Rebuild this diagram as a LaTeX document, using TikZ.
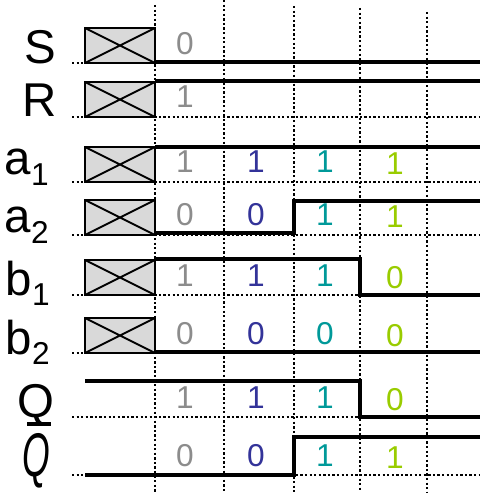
\documentclass[tikz,border=0pt]{standalone}
\usepackage{fontspec}
\setmainfont{Liberation Sans}
\definecolor{bitgray}{RGB}{140,140,140}
\definecolor{bitblue}{RGB}{51,51,153}
\definecolor{bitteal}{RGB}{0,153,153}
\definecolor{bitgreen}{RGB}{153,204,0}
\begin{document}
\begin{tikzpicture}[x=0.02cm, y=-0.02cm,
    gridline/.style={line width=1.3pt, dash pattern=on 1.3pt off 1.3pt},
    signal/.style={line width=2.3pt},
    unknown/.style={draw, line width=1.1pt, fill=black!15},
    sig/.style={font=\fontsize{27}{27}\selectfont, anchor=base east, inner sep=0pt},
    bit/.style={font=\fontsize{18}{20}\selectfont, anchor=base, inner sep=0pt}]
    \useasboundingbox (0,0) rectangle (480,496);

    % Time grid
    \foreach \x/\t in {155/5, 224/0, 294/6, 360/8, 427/12}
        \draw[gridline] (\x,\t) -- (\x,492);
    \foreach \y in {63, 117, 182, 235, 295, 353, 417, 475}
        \draw[gridline] (72,\y) -- (480,\y);

    % Unknown start values
    \foreach \y in {63, 117, 182, 235, 295, 353}
        \draw[unknown] (85,\y-35) rectangle (155,\y)
            (85,\y-35) -- (155,\y) (85,\y) -- (155,\y-35);

    % Signal names
    \node[sig] (S) at (56,64) {S};
    \node[sig] (R) at (57,117) {R};
    \node[sig] (a1) at (49,175) {a\raisebox{-6pt}{\fontsize{18}{18}\selectfont 1}};
    \node[sig] (a2) at (49,233) {a\raisebox{-6pt}{\fontsize{18}{18}\selectfont 2}};
    \node[sig] (b1) at (50,295) {b\raisebox{-6pt}{\fontsize{18}{18}\selectfont 1}};
    \node[sig] (b2) at (50,354) {b\raisebox{-6pt}{\fontsize{18}{18}\selectfont 2}};
    \node[sig] (Q) at (55,417) {Q};
    \node[sig] (Qb) at (51,476) {\scalebox{0.75}[1.3]{\textit{Q}}};
    \draw[line width=2pt] (27,424) -- (51,424);

    % Waveforms
    \draw[signal] (155,62) -- (480,62);
    \draw[signal] (155,81) -- (480,81);
    \draw[signal] (155,147) -- (480,147);
    \draw[signal] (155,233) -- (294,233) -- (294,201) -- (480,201);
    \draw[signal] (155,259) -- (360,259) -- (360,295) -- (480,295);
    \draw[signal] (155,352) -- (480,352);
    \draw[signal] (85,381) -- (360,381) -- (360,417) -- (480,417);
    \draw[signal] (85,475) -- (294,475) -- (294,437) -- (480,437);

    % Values
    \node[bit, bitgray] (vS) at (185,55) {0};
    \node[bit, bitgray] (vR) at (185,108) {1};
    \foreach \y/\ba/\bb/\bc/\bd [count=\r] in {182/1/1/1/1, 235/0/0/1/1,
        295/1/1/1/0, 353/0/0/0/0, 417/1/1/1/0, 475/0/0/1/1} {
        \node[bit, bitgray] (v\r a) at (185,\y-9) {\ba};
        \node[bit, bitblue] (v\r b) at (256,\y-9) {\bb};
        \node[bit, bitteal] (v\r c) at (325,\y-9) {\bc};
        \node[bit, bitgreen] (v\r d) at (395,\y-7) {\bd};
    }
\end{tikzpicture}
\end{document}
